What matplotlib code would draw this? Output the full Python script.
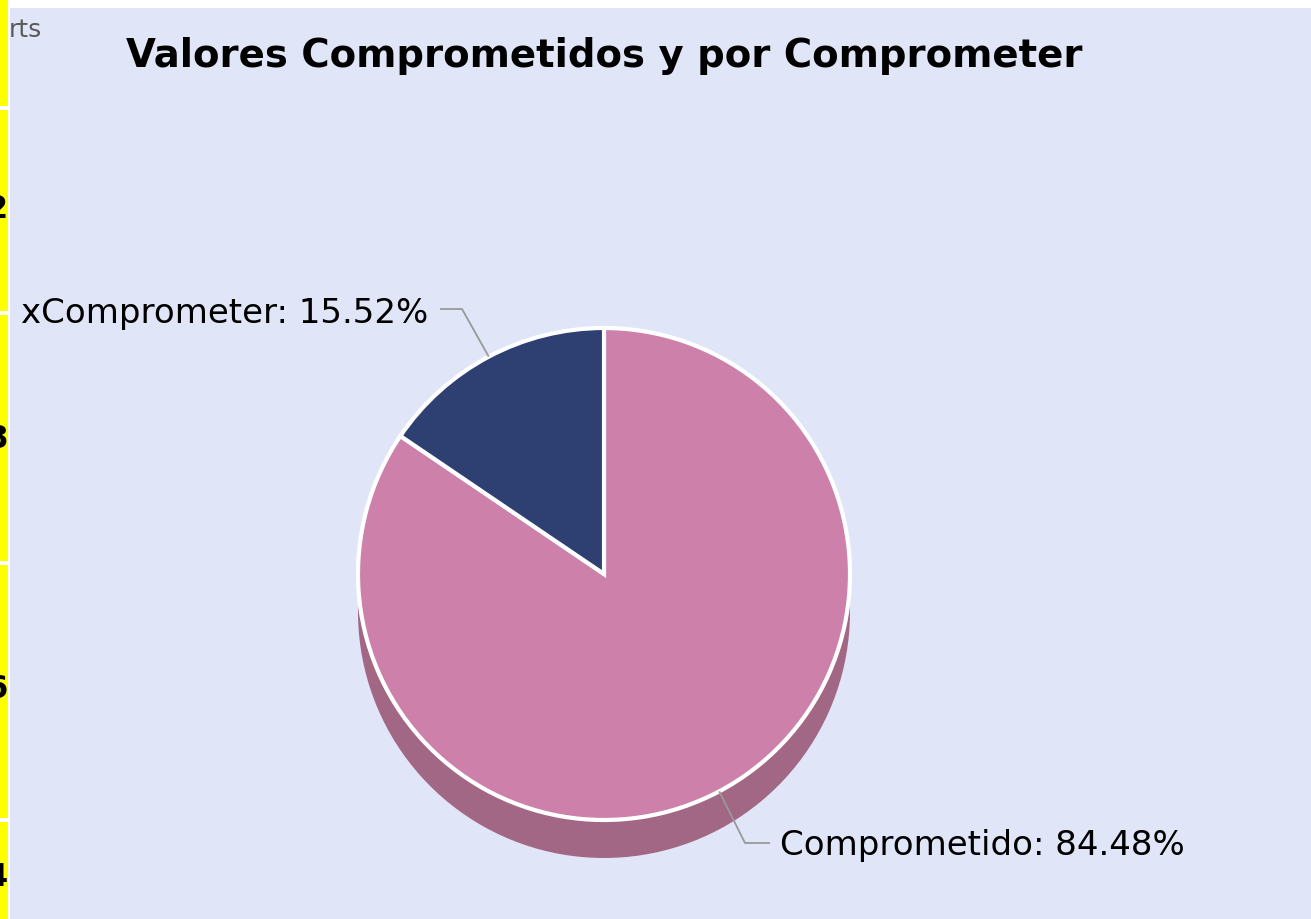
import numpy as np
import matplotlib
matplotlib.use("Agg")
import matplotlib.pyplot as plt
from matplotlib.patches import Rectangle

# ---- data ----
title = "Valores Comprometidos y por Comprometer"
categories = ["Comprometido", "xComprometer"]
percentages = [84.48, 15.52]
label_texts = ["Comprometido: 84.48%", "xComprometer: 15.52%"]
side_digits = ["2", "8", "6", "4"]

# ---- style ----
W, H = 1311, 919
BG = "#E0E6F7"
COLORS = ["#CD80AA", "#2E3F71"]
SHADOW = ["#A36786", "#243259"]
CX, CY, R = 604, 574, 246
DEPTH = 38

fig = plt.figure(figsize=(W / 100, H / 100), dpi=100)
fig.patch.set_facecolor("white")
ax = fig.add_axes([0, 0, 1, 1])

# backgrounds
ax.add_patch(Rectangle((10, 8), W - 10, H - 8, facecolor=BG, edgecolor="none", zorder=0))
# yellow side strip with white separators
bands = [(0, 106), (110, 311), (315, 561), (565, 818), (822, H)]
for y0, y1 in bands:
    ax.add_patch(Rectangle((0, y0), 8, y1 - y0, facecolor="#FFFF00", edgecolor="none", zorder=1))
strip_clip = Rectangle((0, 0), 8, H, transform=ax.transData)
for d, y in zip(side_digits, [210, 440, 690, 878]):
    t = ax.text(8, y, d, ha="right", va="center", fontsize=23, fontweight="bold",
                color="black", zorder=2)
    t.set_clip_path(strip_clip)
    t.set_clip_on(True)

ax.text(9, 30, "rts", ha="left", va="center", fontsize=18, color="#5a5a5a", zorder=2)

# 3D depth: side band + shifted pie in darker shades
ax.add_patch(Rectangle((CX - R, CY), 2 * R, DEPTH, facecolor=SHADOW[0], edgecolor="none", zorder=2))
shadow_w, _ = ax.pie(percentages, colors=SHADOW, startangle=270, counterclock=True,
                     radius=R, center=(CX, CY + DEPTH), wedgeprops=dict(linewidth=0))
for w in shadow_w:
    w.set_zorder(2)

# top face
wedges, _ = ax.pie(percentages, colors=COLORS, startangle=270, counterclock=True,
                   radius=R, center=(CX, CY),
                   wedgeprops=dict(edgecolor="white", linewidth=3.0, joinstyle="miter"))
for w in wedges:
    w.set_zorder(3)

# connectors + labels
elbows = [((745, 843), (770, 843)), ((462, 309), (440, 309))]
text_pos = [(780, 846, "left"), (428, 314, "right")]
for w, (e1, e2), (tx, ty, ha), lab in zip(wedges, elbows, text_pos, label_texts):
    mid = np.deg2rad((w.theta1 + w.theta2) / 2)
    px, py = CX + R * np.cos(mid), CY + R * np.sin(mid)
    ax.plot([px, e1[0], e2[0]], [py, e1[1], e2[1]], color="#999999", lw=1.3, zorder=4,
            solid_capstyle="butt")
    ax.text(tx, ty, lab, ha=ha, va="center", fontsize=24.5, color="black", zorder=5)

ax.text(CX, 56, title, ha="center", va="center", fontsize=27.8, fontweight="bold",
        color="black", zorder=5)

ax.set_xlim(0, W)
ax.set_ylim(H, 0)
ax.set_aspect("auto")
ax.axis("off")
fig.savefig("out.png", dpi=100, facecolor=fig.get_facecolor())
